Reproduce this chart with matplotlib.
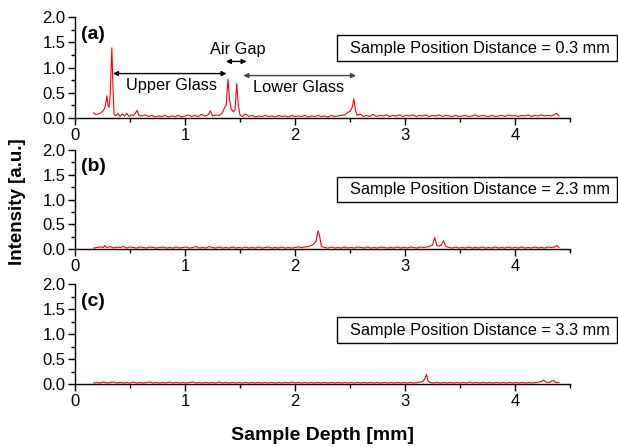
import matplotlib
matplotlib.use('Agg')
import matplotlib.pyplot as plt
from matplotlib.patches import Rectangle
from matplotlib.ticker import MultipleLocator, FormatStrFormatter

plt.rcParams['font.family'] = ['Liberation Sans', 'DejaVu Sans']

# panel (a): sample position distance 0.3 mm
xa = [0.17, 0.19, 0.21, 0.23, 0.25, 0.27, 0.28, 0.29, 0.30, 0.31, 0.32, 0.335, 0.345, 0.355,
      0.37, 0.39, 0.41, 0.43, 0.45, 0.47, 0.49, 0.51, 0.53, 0.55, 0.565, 0.58, 0.61, 0.64,
      0.67, 0.70, 0.73, 0.76, 0.79, 0.82, 0.85, 0.88, 0.91, 0.94, 0.97, 1.00, 1.03, 1.06,
      1.09, 1.12, 1.15, 1.18, 1.21, 1.23, 1.25, 1.28, 1.31, 1.34, 1.36, 1.375, 1.39, 1.405,
      1.42, 1.44, 1.455, 1.47, 1.485, 1.50, 1.52, 1.55, 1.58, 1.61, 1.64, 1.67, 1.70, 1.73,
      1.76, 1.79, 1.82, 1.85, 1.88, 1.91, 1.94, 1.97, 2.00, 2.03, 2.06, 2.09, 2.12, 2.15,
      2.18, 2.21, 2.24, 2.27, 2.30, 2.33, 2.36, 2.39, 2.42, 2.45, 2.48, 2.50, 2.52, 2.535,
      2.55, 2.565, 2.59, 2.62, 2.65, 2.68, 2.71, 2.74, 2.77, 2.80, 2.83, 2.86, 2.89, 2.92,
      2.95, 2.98, 3.01, 3.04, 3.07, 3.10, 3.13, 3.16, 3.19, 3.22, 3.25, 3.28, 3.31, 3.34,
      3.37, 3.40, 3.43, 3.46, 3.49, 3.52, 3.55, 3.58, 3.61, 3.64, 3.67, 3.70, 3.73, 3.76,
      3.79, 3.82, 3.85, 3.88, 3.91, 3.94, 3.97, 4.00, 4.03, 4.06, 4.09, 4.12, 4.15, 4.18,
      4.21, 4.24, 4.27, 4.30, 4.33, 4.36, 4.38, 4.40]
ya = [0.10, 0.07, 0.08, 0.09, 0.13, 0.19, 0.30, 0.44, 0.26, 0.21, 0.47, 1.39, 0.62, 0.08,
      0.04, 0.09, 0.03, 0.08, 0.04, 0.09, 0.03, 0.06, 0.05, 0.10, 0.15, 0.05, 0.04, 0.06,
      0.03, 0.05, 0.02, 0.04, 0.03, 0.05, 0.02, 0.04, 0.03, 0.05, 0.02, 0.04, 0.06, 0.03,
      0.05, 0.03, 0.07, 0.04, 0.06, 0.14, 0.04, 0.06, 0.05, 0.10, 0.21, 0.26, 0.77, 0.36,
      0.18, 0.12, 0.16, 0.68, 0.24, 0.06, 0.03, 0.08, 0.03, 0.05, 0.02, 0.04, 0.03, 0.05,
      0.03, 0.04, 0.02, 0.05, 0.03, 0.04, 0.02, 0.05, 0.03, 0.04, 0.03, 0.05, 0.02, 0.04,
      0.03, 0.05, 0.03, 0.04, 0.02, 0.05, 0.03, 0.04, 0.05, 0.06, 0.11, 0.13, 0.21, 0.38,
      0.15, 0.05, 0.08, 0.03, 0.05, 0.03, 0.07, 0.03, 0.05, 0.04, 0.06, 0.03, 0.05, 0.04,
      0.06, 0.03, 0.05, 0.04, 0.06, 0.03, 0.05, 0.04, 0.06, 0.03, 0.05, 0.04, 0.06, 0.03,
      0.05, 0.04, 0.03, 0.05, 0.03, 0.04, 0.05, 0.03, 0.04, 0.06, 0.03, 0.05, 0.04, 0.03,
      0.05, 0.03, 0.04, 0.05, 0.03, 0.06, 0.04, 0.05, 0.03, 0.05, 0.04, 0.06, 0.03, 0.05,
      0.04, 0.06, 0.04, 0.05, 0.04, 0.07, 0.09, 0.04]

# panel (b): sample position distance 2.3 mm
xb = [0.17, 0.20, 0.23, 0.26, 0.27, 0.29, 0.32, 0.35, 0.38, 0.41, 0.44, 0.47, 0.50, 0.53,
      0.56, 0.59, 0.62, 0.65, 0.68, 0.71, 0.74, 0.77, 0.80, 0.83, 0.86, 0.89, 0.92, 0.95,
      0.98, 1.01, 1.04, 1.07, 1.10, 1.13, 1.16, 1.19, 1.22, 1.25, 1.28, 1.31, 1.34, 1.37,
      1.40, 1.43, 1.46, 1.49, 1.52, 1.55, 1.58, 1.61, 1.64, 1.67, 1.70, 1.73, 1.76, 1.79,
      1.82, 1.85, 1.88, 1.91, 1.94, 1.97, 2.00, 2.03, 2.06, 2.09, 2.12, 2.15, 2.17, 2.19,
      2.21, 2.225, 2.24, 2.27, 2.30, 2.33, 2.36, 2.39, 2.42, 2.45, 2.48, 2.51, 2.54, 2.57,
      2.60, 2.63, 2.66, 2.69, 2.72, 2.75, 2.78, 2.81, 2.84, 2.87, 2.90, 2.93, 2.96, 2.99,
      3.02, 3.05, 3.08, 3.11, 3.14, 3.17, 3.20, 3.23, 3.25, 3.27, 3.29, 3.31, 3.33, 3.35,
      3.37, 3.40, 3.43, 3.46, 3.49, 3.52, 3.55, 3.58, 3.61, 3.64, 3.67, 3.70, 3.73, 3.76,
      3.79, 3.82, 3.85, 3.88, 3.91, 3.94, 3.97, 4.00, 4.03, 4.06, 4.09, 4.12, 4.15, 4.18,
      4.21, 4.24, 4.27, 4.30, 4.33, 4.36, 4.38, 4.40]
yb = [0.02, 0.03, 0.04, 0.03, 0.07, 0.03, 0.05, 0.02, 0.04, 0.03, 0.05, 0.02, 0.04, 0.03,
      0.02, 0.04, 0.03, 0.02, 0.04, 0.03, 0.02, 0.03, 0.04, 0.02, 0.03, 0.02, 0.04, 0.02,
      0.03, 0.04, 0.02, 0.03, 0.05, 0.02, 0.03, 0.02, 0.05, 0.03, 0.02, 0.04, 0.02, 0.03,
      0.02, 0.04, 0.02, 0.03, 0.02, 0.04, 0.02, 0.03, 0.02, 0.04, 0.02, 0.03, 0.04, 0.02,
      0.03, 0.02, 0.04, 0.02, 0.03, 0.02, 0.03, 0.04, 0.03, 0.04, 0.05, 0.07, 0.10, 0.15,
      0.37, 0.25, 0.05, 0.03, 0.02, 0.04, 0.02, 0.03, 0.02, 0.04, 0.02, 0.03, 0.02, 0.04,
      0.03, 0.02, 0.04, 0.02, 0.03, 0.02, 0.04, 0.03, 0.02, 0.03, 0.02, 0.04, 0.02, 0.03,
      0.02, 0.04, 0.03, 0.02, 0.04, 0.03, 0.04, 0.06, 0.08, 0.23, 0.07, 0.06, 0.08, 0.17,
      0.05, 0.03, 0.02, 0.04, 0.02, 0.03, 0.02, 0.04, 0.02, 0.03, 0.02, 0.04, 0.02, 0.03,
      0.02, 0.04, 0.02, 0.03, 0.02, 0.04, 0.02, 0.03, 0.02, 0.04, 0.02, 0.03, 0.02, 0.04,
      0.02, 0.03, 0.02, 0.04, 0.03, 0.04, 0.07, 0.03]

# panel (c): sample position distance 3.3 mm
xc = [0.17, 0.20, 0.23, 0.26, 0.29, 0.32, 0.35, 0.38, 0.41, 0.44, 0.47, 0.50, 0.53, 0.56,
      0.59, 0.62, 0.65, 0.68, 0.71, 0.74, 0.77, 0.80, 0.83, 0.86, 0.89, 0.92, 0.95, 0.98,
      1.01, 1.04, 1.07, 1.10, 1.13, 1.16, 1.19, 1.22, 1.25, 1.28, 1.31, 1.34, 1.37, 1.40,
      1.43, 1.46, 1.49, 1.52, 1.55, 1.58, 1.61, 1.64, 1.67, 1.70, 1.73, 1.76, 1.79, 1.82,
      1.85, 1.88, 1.91, 1.94, 1.97, 2.00, 2.03, 2.06, 2.09, 2.12, 2.15, 2.18, 2.21, 2.24,
      2.27, 2.30, 2.33, 2.36, 2.39, 2.42, 2.45, 2.48, 2.51, 2.54, 2.57, 2.60, 2.63, 2.66,
      2.69, 2.72, 2.75, 2.78, 2.81, 2.84, 2.87, 2.90, 2.93, 2.96, 2.99, 3.02, 3.05, 3.08,
      3.11, 3.14, 3.16, 3.18, 3.195, 3.21, 3.23, 3.26, 3.29, 3.32, 3.35, 3.38, 3.41, 3.44,
      3.47, 3.50, 3.53, 3.56, 3.59, 3.62, 3.65, 3.68, 3.71, 3.74, 3.77, 3.80, 3.83, 3.86,
      3.89, 3.92, 3.95, 3.98, 4.01, 4.04, 4.07, 4.10, 4.13, 4.16, 4.19, 4.22, 4.24, 4.26,
      4.28, 4.31, 4.33, 4.35, 4.37, 4.40]
yc = [0.02, 0.03, 0.02, 0.04, 0.02, 0.03, 0.04, 0.02, 0.03, 0.02, 0.03, 0.02, 0.04, 0.02,
      0.03, 0.02, 0.03, 0.04, 0.02, 0.03, 0.02, 0.03, 0.02, 0.04, 0.02, 0.03, 0.02, 0.03,
      0.02, 0.03, 0.04, 0.02, 0.03, 0.02, 0.03, 0.02, 0.03, 0.02, 0.04, 0.02, 0.03, 0.02,
      0.03, 0.02, 0.03, 0.02, 0.03, 0.02, 0.03, 0.02, 0.03, 0.02, 0.03, 0.02, 0.03, 0.02,
      0.03, 0.02, 0.03, 0.02, 0.04, 0.02, 0.03, 0.02, 0.03, 0.02, 0.03, 0.02, 0.03, 0.02,
      0.03, 0.02, 0.03, 0.02, 0.03, 0.02, 0.03, 0.02, 0.03, 0.02, 0.03, 0.02, 0.03, 0.02,
      0.03, 0.02, 0.03, 0.02, 0.03, 0.02, 0.03, 0.02, 0.03, 0.02, 0.03, 0.02, 0.03, 0.02,
      0.03, 0.04, 0.05, 0.10, 0.19, 0.06, 0.03, 0.02, 0.03, 0.02, 0.03, 0.02, 0.03, 0.02,
      0.03, 0.02, 0.03, 0.02, 0.04, 0.02, 0.03, 0.02, 0.03, 0.02, 0.03, 0.02, 0.03, 0.02,
      0.03, 0.02, 0.03, 0.02, 0.03, 0.02, 0.03, 0.02, 0.03, 0.02, 0.03, 0.04, 0.05, 0.08,
      0.04, 0.03, 0.05, 0.07, 0.03, 0.03]

panel_labels = ['(a)', '(b)', '(c)']
distances = ['Sample Position Distance = 0.3 mm',
             'Sample Position Distance = 2.3 mm',
             'Sample Position Distance = 3.3 mm']

W, H = 618, 447
fig = plt.figure(figsize=(W / 100, H / 100), dpi=100)

# axes placement in pixels: (top, bottom) of each panel
left_px, right_px = 75, 570
rows_px = [(17, 118), (150, 249), (284, 384)]
box_px = [(35, 61), (177, 202), (317, 343)]

series = [(xa, ya), (xb, yb), (xc, yc)]
axes = []
for i, (x, y) in enumerate(series):
    top, bot = rows_px[i]
    ax = fig.add_axes([left_px / W, 1 - bot / H, (right_px - left_px) / W, (bot - top) / H])
    ax.plot(x, y, color='red', lw=0.8)
    ax.set_xlim(0, 4.5)
    ax.set_ylim(0, 2.0)
    ax.spines['top'].set_visible(False)
    ax.spines['right'].set_visible(False)
    for s in ['left', 'bottom']:
        ax.spines[s].set_linewidth(1.0)
    ax.xaxis.set_major_locator(MultipleLocator(1))
    ax.xaxis.set_minor_locator(MultipleLocator(0.5))
    ax.yaxis.set_major_locator(MultipleLocator(0.5))
    ax.yaxis.set_minor_locator(MultipleLocator(0.25))
    ax.yaxis.set_major_formatter(FormatStrFormatter('%.1f'))
    ax.tick_params(which='major', direction='out', length=5, width=1, labelsize=12, pad=2)
    ax.tick_params(which='minor', direction='out', length=3, width=1)
    ax.patch.set_visible(False)
    ax.text(0.012, 0.83, panel_labels[i], transform=ax.transAxes, fontsize=14,
            fontweight='bold', va='center', ha='left')
    axes.append(ax)

    b0, b1 = box_px[i]
    fig.add_artist(Rectangle((337 / W, 1 - b1 / H), (617 - 337) / W, (b1 - b0) / H,
                             transform=fig.transFigure, fill=False, lw=1.0, ec='black'))
    fig.text(480 / W, 1 - (b0 + b1) / 2 / H, distances[i], fontsize=11.8,
             ha='center', va='center')

# annotations on panel (a)
ax = axes[0]
arrow = dict(arrowstyle='<|-|>', color='black', lw=1.0, mutation_scale=7,
             shrinkA=0, shrinkB=0)
ax.annotate('', xy=(0.345, 0.88), xytext=(1.378, 0.88), arrowprops=arrow)
ax.annotate('', xy=(1.372, 1.12), xytext=(1.56, 1.12), arrowprops=arrow)
ax.annotate('', xy=(1.53, 0.84), xytext=(2.555, 0.84),
            arrowprops=dict(arrow, color='#444444'))
ax.text(0.875, 0.64, 'Upper Glass', fontsize=11.8, ha='center', va='center')
ax.text(1.48, 1.36, 'Air Gap', fontsize=11.8, ha='center', va='center')
ax.text(2.03, 0.60, 'Lower Glass', fontsize=11.8, ha='center', va='center')

fig.text(18 / W, 1 - 202 / H, 'Intensity [a.u.]', rotation=90, fontsize=13.5,
         fontweight='bold', ha='center', va='center')
fig.text(323 / W, 1 - 435 / H, 'Sample Depth [mm]', fontsize=14,
         fontweight='bold', ha='center', va='center')

fig.savefig('out.png', dpi=100)
